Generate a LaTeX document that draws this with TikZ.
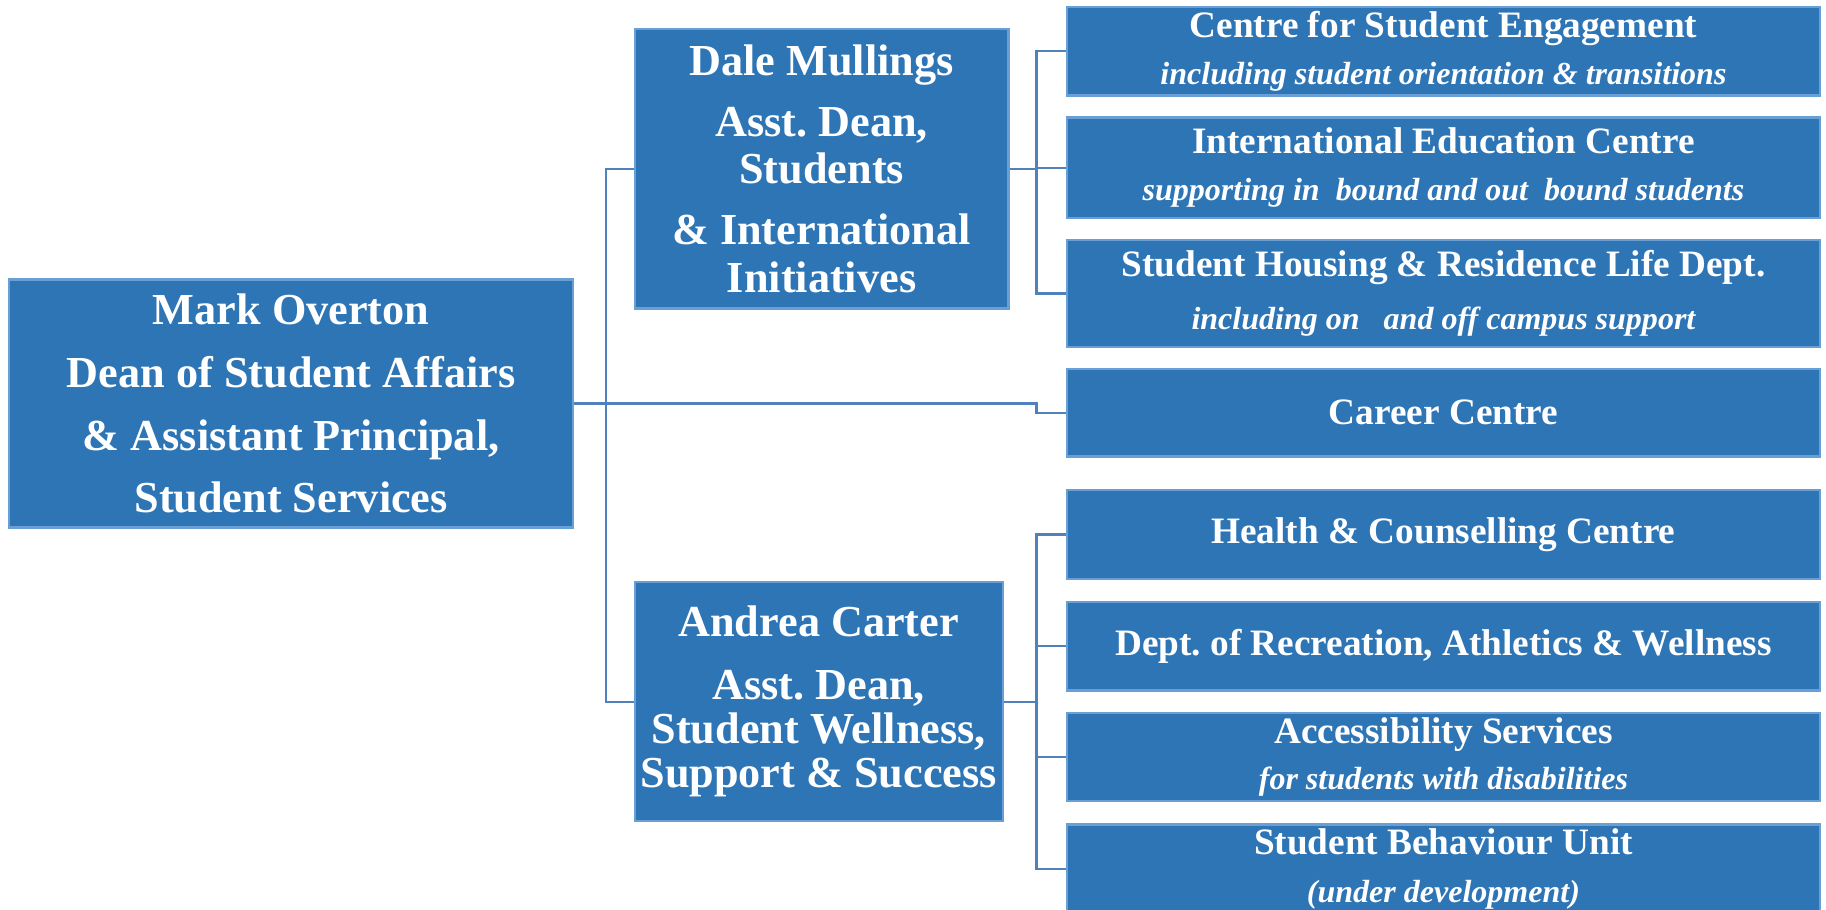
\documentclass[tikz,border=0pt]{standalone}
\usepackage{fontspec}
\setmainfont{Liberation Serif}

\definecolor{boxblue}{HTML}{2E75B6}
\definecolor{edgeblue}{HTML}{6A9FD6}
\definecolor{lineblue}{HTML}{4F81BD}

\newcommand{\headfont}{\bfseries\fontsize{38}{54}\selectfont}
\newcommand{\unitfont}{\bfseries\fontsize{32}{40}\selectfont}
\newcommand{\notefont}{\fontsize{27.5}{40}\selectfont\itshape}

\begin{document}
\begin{tikzpicture}[x=1pt, y=-1pt,
  box/.style={draw=edgeblue, line width=2pt, fill=boxblue, text=white,
    align=center, inner sep=0pt},
  head/.style={box, font=\headfont},
  unit/.style={box, font=\unitfont, minimum width=647pt, minimum height=76pt},
  link/.style={draw=lineblue, line width=1.8pt}]

  \useasboundingbox (0,0) rectangle (1568,780.6);

  % Dean
  \node[head, minimum width=484pt, minimum height=213pt] (mark) at (250,346.5)
    {Mark Overton\\Dean of Student Affairs\\\& Assistant Principal,\\Student Services};

  % Assistant deans
  \node[head, font=\bfseries\fontsize{38}{41}\selectfont, minimum width=321pt, minimum height=240pt] (dale) at (705.5,145)
    {Dale Mullings\\[11pt]Asst.\ Dean,\\Students\\[11pt]\& International\\Initiatives};
  \node[head, font=\bfseries\fontsize{38}{38}\selectfont, minimum width=316pt, minimum height=205pt] (andrea) at (703,602.5)
    {Andrea Carter\\[16pt]Asst.\ Dean,\\Student Wellness,\\Support \& Success};

  % Units under Dale Mullings
  \node[unit] (cse) at (1239.5,44)
    {Centre for Student Engagement\\{\notefont including student orientation \& transitions}};
  \node[unit, minimum height=86pt] (ied) at (1239.5,144)
    {International Education Centre\\{\notefont supporting in~ bound and out~ bound students}};
  \node[unit, minimum height=92pt] (housing) at (1239.5,252)
    {Student Housing \& Residence Life Dept.\\[6pt]{\notefont including on~~ and off campus support}};

  % Unit under the Dean
  \node[unit, minimum height=75pt] (career) at (1239.5,354.5) {Career Centre};

  % Units under Andrea Carter
  \node[unit] (health) at (1239.5,459) {Health \& Counselling Centre};
  \node[unit] (rec) at (1239.5,555) {Dept.\ of Recreation, Athletics \& Wellness};
  \node[unit] (access) at (1239.5,650)
    {Accessibility Services\\{\notefont for students with disabilities}};
  \node[unit] (sbu) at (1239.5,746)
    {Student Behaviour Unit\\[1pt]{\notefont (under development)}};

  % Trunk positions
  \coordinate (lt) at (520,0);
  \coordinate (rt) at (890,0);

  % Connectors
  \draw[link] (mark.east) -- (mark.east -| lt);
  \draw[link] (dale.west) -| (lt |- andrea.west) -- (andrea.west);
  \draw[link] (mark.east) -- (mark.east -| rt) -- (rt |- career.west) -- (career.west);

  \draw[link] (dale.east) -- (dale.east -| rt);
  \draw[link] (cse.west) -| (rt |- housing.west) -- (housing.west);
  \draw[link] (rt |- ied.west) -- (ied.west);

  \draw[link] (andrea.east) -- (andrea.east -| rt);
  \draw[link] (health.west) -| (rt |- sbu.west) -- (sbu.west);
  \foreach \n in {rec,access}
    \draw[link] (rt |- \n.west) -- (\n.west);

\end{tikzpicture}
\end{document}
